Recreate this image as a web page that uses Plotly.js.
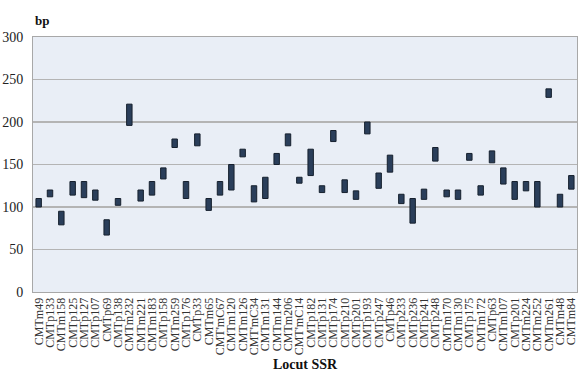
<!DOCTYPE html>
<html><head><meta charset="utf-8">
<script src="https://cdn.plot.ly/plotly-3.0.1.min.js"></script>
<style>html,body{margin:0;padding:0;background:#fff;}#chart{width:584px;height:378px;}</style>
</head><body><div id="chart"></div>
<script>
const loci = ["CMTm49","CMTp133","CMTm158","CMTp125","CMTp127","CMTp107","CMTp69","CMTp138","CMTm232","CMTm221","CMTm183","CMTp158","CMTm259","CMTp176","CMTp33","CMTm65","CMT'mC67","CMTm120","CMTm126","CMT'mC34","CMTm131","CMTm144","CMTm206","CMT'mC14","CMTp182","CMTp131","CMTp174","CMTp210","CMTp201","CMTp193","CMTp247","CMTp46","CMTp233","CMTp236","CMTp241","CMTp248","CMTm170","CMTm130","CMTp175","CMTm172","CMTp63","CMTm107","CMTp201","CMTm224","CMTm252","CMTm261","CMTm48","CMTm84"];
const minBp = [100,112,79,114,111,108,67,102,196,107,114,133,170,110,172,96,114,120,159,106,110,150,172,128,137,117,177,117,109,186,122,141,104,81,109,154,112,109,155,114,152,127,109,119,100,229,100,121];
const maxBp = [110,120,95,130,130,120,85,110,221,120,130,146,180,130,186,110,130,150,168,125,135,163,186,135,168,125,190,132,119,200,140,161,115,110,121,170,120,120,163,125,166,146,130,130,130,239,115,137];
const yTicks = [0,50,100,150,200,250,300];

const idx = loci.map((_, i) => i);
const trace = {
  type: 'bar',
  x: idx,
  base: minBp,
  y: maxBp.map((v, i) => v - minBp[i]),
  width: 0.48,
  marker: {color: '#2A3E5A', line: {color: '#16202E', width: 1}},
  hoverinfo: 'skip'
};
const layout = {
  width: 584, height: 378,
  margin: {l: 33, r: 7, t: 37, b: 86},
  paper_bgcolor: '#ffffff',
  plot_bgcolor: '#E9EEF6',
  showlegend: false,
  font: {family: 'Liberation Serif, Times New Roman, serif', color: '#222'},
  xaxis: {
    tickmode: 'array', tickvals: idx, ticktext: loci,
    tickangle: -90, tickfont: {size: 12, color: '#333'},
    range: [-0.5, loci.length - 0.5],
    showline: true, linecolor: '#A8A8A8', linewidth: 1, mirror: true,
    ticks: '', showgrid: false, zeroline: false,
    title: {text: '<b>Locut SSR</b>', font: {size: 14, color: '#111'}, standoff: 4}
  },
  yaxis: {
    range: [0, 300], tickvals: yTicks, tickfont: {size: 14, color: '#222'},
    ticklabelstandoff: 6,
    showgrid: true, gridcolor: '#B4B4B4', gridwidth: 1.5,
    showline: true, linecolor: '#A8A8A8', linewidth: 1, mirror: true,
    ticks: '', zeroline: false
  },
  annotations: [{
    text: '<b>bp</b>', xref: 'paper', yref: 'paper', x: 0, y: 1,
    xanchor: 'left', yanchor: 'bottom', yshift: 7, showarrow: false,
    font: {size: 13, color: '#111', family: 'Liberation Serif, serif'}
  }]
};
Plotly.newPlot('chart', [trace], layout, {displayModeBar: false, staticPlot: true});
</script></body></html>
